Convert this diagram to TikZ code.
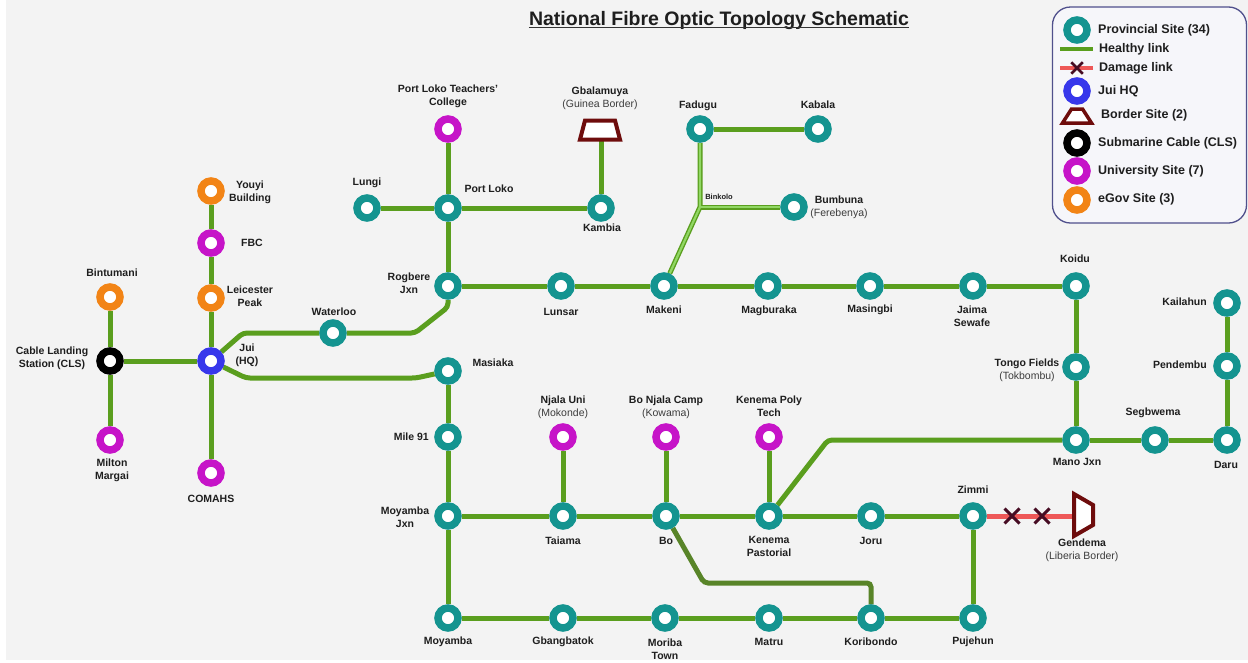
\documentclass[tikz,border=0pt]{standalone}
\usepackage{fontspec}
\setmainfont{Liberation Sans}
\usetikzlibrary{shapes.misc}
\definecolor{bgc}{RGB}{243,243,243}
\definecolor{teal1}{RGB}{20,148,144}
\definecolor{lnk}{RGB}{90,158,30}
\definecolor{lnkdark}{RGB}{88,132,40}
\definecolor{lnklight}{RGB}{145,215,100}
\definecolor{hq}{RGB}{55,55,235}
\definecolor{uni}{RGB}{198,20,200}
\definecolor{egov}{RGB}{242,132,22}
\definecolor{dmg}{RGB}{238,88,88}
\definecolor{xmark}{RGB}{70,12,35}
\definecolor{brd}{RGB}{110,12,12}
\definecolor{legbd}{RGB}{80,80,140}
\definecolor{legbg}{RGB}{246,246,250}
\definecolor{subc}{RGB}{60,60,60}
\definecolor{txt}{RGB}{30,30,30}
\newcommand\sublbl[1]{{\mdseries\color{subc}#1}}
\pgfdeclarelayer{back}\pgfdeclarelayer{edges}\pgfsetlayers{back,edges,main}
\begin{document}
\begin{tikzpicture}[x=1pt,y=-1pt,
  site/.style={circle,draw=#1,line width=7.5pt,minimum size=20pt,inner sep=0pt,fill=white},
  site/.default=teal1,
  lbl/.style={font=\bfseries\fontsize{10.5}{13}\selectfont,text=txt,align=center,inner sep=0pt},
  link/.style={draw=lnk,line width=5pt,rounded corners=4pt},
  boline/.style={draw=lnkdark,line width=5pt,rounded corners=4pt},
  dlink/.style={draw=lnk,line width=5pt},
  dcore/.style={draw=lnklight,line width=2.2pt},
  dmgline/.style={draw=dmg,line width=5pt},
  xm/.style={cross out,draw=xmark,line width=3pt,minimum size=12pt,inner sep=0pt},
  bordersite/.style={draw=brd,fill=white,line width=4pt,line join=miter},
  leg/.style={font=\bfseries\fontsize{12.5}{14}\selectfont,text=txt,anchor=west,inner sep=0pt},
]
\useasboundingbox (0,0) rectangle (1248,662);
\begin{pgfonlayer}{back}
\fill[white] (0,0) rectangle (1248,662);
\fill[bgc] (6,0) rectangle (1248,660);
\end{pgfonlayer}

% title
\node[font=\bfseries\fontsize{19.5}{22}\selectfont,text=txt,anchor=base,inner sep=0pt] (title) at (719,25) {National Fibre Optic Topology Schematic};
\draw[line width=1.3pt,draw=black!80] ([yshift=-2.8pt]title.base west) -- ([yshift=-2.8pt]title.base east);

% ---- sites ----
\node[site=black] (cls) at (110,361) {};
\node[site=egov] (bint) at (110,297) {};
\node[site=uni] (milton) at (110,440) {};
\node[site=hq] (jui) at (211,361) {};
\node[site=egov] (leic) at (211,298) {};
\node[site=uni] (fbc) at (211,243) {};
\node[site=egov] (youyi) at (211,191) {};
\node[site=uni] (comahs) at (211,473) {};
\node[site] (wat) at (333,333) {};
\node[site] (mas) at (448,371) {};
\node[site] (rog) at (448,286) {};
\node[site] (pl) at (448,208) {};
\node[site] (lungi) at (367,208) {};
\node[site=uni] (pltc) at (448,129) {};
\node[site] (kambia) at (601,208) {};
% Gbalamuya border site
\filldraw[bordersite] (580,139.5) -- (620,139.5) -- (615,120.5) -- (585,120.5) -- cycle;
\coordinate (gbal) at (601,139.5);
\node[site] (lunsar) at (561,286) {};
\node[site] (makeni) at (664,286) {};
\node[site] (magb) at (768,286) {};
\node[site] (masingbi) at (870,286) {};
\node[site] (jaima) at (973,286) {};
\node[site] (koidu) at (1076,286) {};
\node[site] (tongo) at (1076,367) {};
\node[site] (mano) at (1076,440) {};
\node[site] (segb) at (1155,440) {};
\node[site] (daru) at (1227,440) {};
\node[site] (pend) at (1227,366) {};
\node[site] (kail) at (1227,303) {};
\node[site] (fadugu) at (700,129) {};
\node[site] (kabala) at (818,129) {};
\coordinate (bink) at (700,207);
\node[site] (bumbuna) at (794,207) {};
\node[site] (mile91) at (448,437) {};
\node[site] (moyjxn) at (448,516) {};
\node[site] (taiama) at (563,516) {};
\node[site=uni] (njala) at (563,437) {};
\node[site] (bo) at (666,516) {};
\node[site=uni] (bonjala) at (666,437) {};
\node[site] (kpas) at (769,516) {};
\node[site=uni] (kpoly) at (769,437) {};
\node[site] (joru) at (871,516) {};
\node[site] (zimmi) at (973,516) {};
% Gendema border site
\filldraw[bordersite] (1074,494) -- (1074,536) -- (1093,525) -- (1093,505) -- cycle;
\coordinate (gendema) at (1074,516);
\node[xm] (x1) at (1012,516) {};
\node[xm] (x2) at (1042,516) {};
\node[site] (pujehun) at (973,618) {};
\node[site] (moyamba) at (448,618) {};
\node[site] (gbang) at (563,618) {};
\node[site] (moriba) at (665,618) {};
\node[site] (matru) at (769,618) {};
\node[site] (korib) at (871,618) {};

% ---- links ----
\begin{pgfonlayer}{edges}
\draw[link] (bint) -- (cls);
\draw[link] (cls) -- (milton);
\draw[link] (cls) -- (jui);
\draw[link] (youyi) -- (fbc);
\draw[link] (fbc) -- (leic);
\draw[link] (leic) -- (jui);
\draw[link] (jui) -- (comahs);
\draw[link] (jui) -- (243,333) -- (wat);
\draw[link] (wat) -- (415,333) -- (448,307) -- (rog);
\draw[link] (jui) -- (246,378) -- (416,378) -- (mas);
\draw[link] (lungi) -- (pl);
\draw[link] (pl) -- (kambia);
\draw[link] (pltc) -- (pl);
\draw[link] (pl) -- (rog);
\draw[link] (kambia) -- (gbal);
\draw[link] (rog) -- (lunsar);
\draw[link] (lunsar) -- (makeni);
\draw[link] (makeni) -- (magb);
\draw[link] (magb) -- (masingbi);
\draw[link] (masingbi) -- (jaima);
\draw[link] (jaima) -- (koidu);
\draw[link] (koidu) -- (tongo);
\draw[link] (tongo) -- (mano);
\draw[link] (mano) -- (segb);
\draw[link] (segb) -- (daru);
\draw[link] (daru) -- (pend);
\draw[link] (pend) -- (kail);
\draw[link] (fadugu) -- (kabala);
\draw[dlink] (makeni) -- (bink) -- (fadugu);
\draw[dlink] (bink) -- (bumbuna);
\draw[dcore] (makeni) -- (bink) -- (fadugu);
\draw[dcore] (bink) -- (bumbuna);
\draw[link] (mas) -- (mile91);
\draw[link] (mile91) -- (moyjxn);
\draw[link] (moyjxn) -- (moyamba);
\draw[link] (moyjxn) -- (taiama);
\draw[link] (taiama) -- (bo);
\draw[link] (bo) -- (kpas);
\draw[link] (kpas) -- (joru);
\draw[link] (joru) -- (zimmi);
\draw[link] (njala) -- (taiama);
\draw[link] (bonjala) -- (bo);
\draw[link] (kpoly) -- (kpas);
\draw[link] (kpas) -- (828,440) -- (mano);
\draw[boline] (bo) -- (704,583) -- (871,583) -- (korib);
\draw[link] (zimmi) -- (pujehun);
\draw[link] (moyamba) -- (gbang);
\draw[link] (gbang) -- (moriba);
\draw[link] (moriba) -- (matru);
\draw[link] (matru) -- (korib);
\draw[link] (korib) -- (pujehun);
\draw[dmgline] (zimmi) -- (gendema);
\end{pgfonlayer}

% ---- labels ----
\node[lbl] (l-youyi) at (250,192) {Youyi\\Building};
\node[lbl] (l-fbc) at (252,243) {FBC};
\node[lbl] (l-leic) at (250,296) {Leicester\\Peak};
\node[lbl] (l-bint) at (112,273) {Bintumani};
\node[lbl] (l-cls) at (52,358) {Cable Landing\\Station (CLS)};
\node[lbl] (l-jui) at (247,355) {Jui\\(HQ)};
\node[lbl] (l-milton) at (112,470) {Milton\\Margai};
\node[lbl] (l-comahs) at (211,499) {COMAHS};
\node[lbl] (l-wat) at (334,312) {Waterloo};
\node[lbl] (l-mas) at (493,363) {Masiaka};
\node[lbl] (l-lungi) at (367,183) {Lungi};
\node[lbl] (l-pl) at (489,189) {Port Loko};
\node[lbl] (l-pltc) at (448,96) {Port Loko Teachers'\\College};
\node[lbl] (l-gbal) at (600,98) {Gbalamuya\\\sublbl{(Guinea Border)}};
\node[lbl] (l-kambia) at (602,228) {Kambia};
\node[lbl] (l-rog) at (409,283) {Rogbere\\Jxn};
\node[lbl] (l-lunsar) at (561,312) {Lunsar};
\node[lbl] (l-makeni) at (664,310) {Makeni};
\node[lbl] (l-magb) at (769,311) {Magburaka};
\node[lbl] (l-masingbi) at (870,310) {Masingbi};
\node[lbl] (l-jaima) at (972,316) {Jaima\\Sewafe};
\node[lbl] (l-fadugu) at (698,106) {Fadugu};
\node[lbl] (l-kabala) at (818,105) {Kabala};
\node[lbl,font=\bfseries\fontsize{7.5}{9}\selectfont] (l-bink) at (719,197) {Binkolo};
\node[lbl] (l-bumbuna) at (839,207) {Bumbuna\\\sublbl{(Ferebenya)}};
\node[lbl] (l-koidu) at (1075,259) {Koidu};
\node[lbl] (l-tongo) at (1027,370) {Tongo Fields\\\sublbl{(Tokbombu)}};
\node[lbl] (l-mano) at (1077,462) {Mano Jxn};
\node[lbl] (l-segb) at (1153,413) {Segbwema};
\node[lbl] (l-daru) at (1226,465) {Daru};
\node[lbl,anchor=east] (l-pend) at (1207,365) {Pendembu};
\node[lbl,anchor=east] (l-kail) at (1207,302) {Kailahun};
\node[lbl,anchor=east] (l-mile91) at (429,437) {Mile 91};
\node[lbl] (l-moyjxn) at (405,517) {Moyamba\\Jxn};
\node[lbl] (l-njala) at (563,407) {Njala Uni\\\sublbl{(Mokonde)}};
\node[lbl] (l-bonjala) at (666,407) {Bo Njala Camp\\\sublbl{(Kowama)}};
\node[lbl] (l-kpoly) at (769,406) {Kenema Poly\\Tech};
\node[lbl] (l-taiama) at (563,541) {Taiama};
\node[lbl] (l-bo) at (666,541) {Bo};
\node[lbl] (l-kpas) at (769,546) {Kenema\\Pastorial};
\node[lbl] (l-joru) at (871,541) {Joru};
\node[lbl] (l-zimmi) at (973,490) {Zimmi};
\node[lbl] (l-gendema) at (1082,550) {Gendema\\\sublbl{(Liberia Border)}};
\node[lbl] (l-moyamba) at (448,642) {Moyamba};
\node[lbl] (l-gbang) at (563,642) {Gbangbatok};
\node[lbl] (l-moriba) at (665,649) {Moriba\\Town};
\node[lbl] (l-matru) at (769,642) {Matru};
\node[lbl] (l-korib) at (871,642) {Koribondo};
\node[lbl] (l-pujehun) at (973,642) {Pujehun};

% ---- legend ----
\node[draw=legbd,fill=legbg,line width=1.3pt,rounded corners=18pt,minimum width=194pt,minimum height=216pt,inner sep=0pt] (legend) at (1149.5,115) {};
\node[site] (lg-prov) at (1077,30) {};
\node[leg] (lt-prov) at (1098,30) {Provincial Site (34)};
\coordinate (lg-h1) at (1060,49);
\coordinate (lg-h2) at (1093,49);
\draw[draw=lnk,line width=4pt] (lg-h1) -- (lg-h2);
\node[leg] (lt-h) at (1099,49) {Healthy link};
\coordinate (lg-d1) at (1060,68);
\coordinate (lg-d2) at (1093,68);
\draw[draw=dmg,line width=4pt] (lg-d1) -- (lg-d2);
\node[xm,minimum size=9pt,line width=2.5pt] (lg-x) at (1077,68) {};
\node[leg] (lt-d) at (1099,68) {Damage link};
\node[site=hq] (lg-hq) at (1077,91) {};
\node[leg] (lt-hq) at (1098,91) {Jui HQ};
\filldraw[bordersite,line width=3.5pt] (1062.5,123) -- (1091.5,123) -- (1082.5,109) -- (1071.5,109) -- cycle;
\node[leg] (lt-b) at (1101,115) {Border Site (2)};
\node[site=black] (lg-cls) at (1077,143) {};
\node[leg] (lt-cls) at (1098,143) {Submarine Cable (CLS)};
\node[site=uni] (lg-uni) at (1077,171) {};
\node[leg] (lt-uni) at (1098,171) {University Site (7)};
\node[site=egov] (lg-egov) at (1077,200) {};
\node[leg] (lt-egov) at (1098,199) {eGov Site (3)};
\end{tikzpicture}
\end{document}
